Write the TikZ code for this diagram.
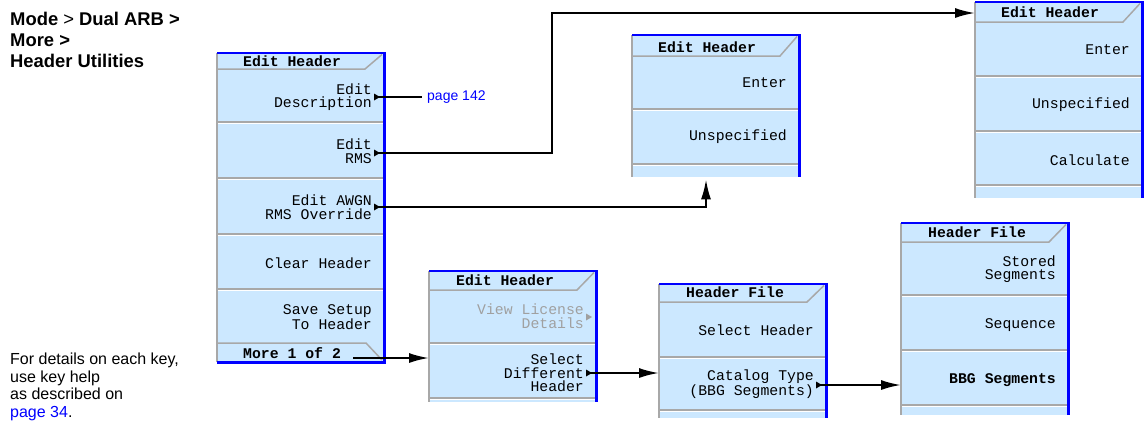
\documentclass[tikz,border=0pt]{standalone}
\usepackage{fontspec}
\setmainfont{Liberation Sans}
\newfontfamily\keyfont{Liberation Mono}
\usepackage{tikz}
\usetikzlibrary{arrows.meta,positioning,calc}
\definecolor{keyblue}{RGB}{204,232,255}
\definecolor{edgeblue}{RGB}{0,0,255}
\definecolor{divgray}{RGB}{168,168,168}
\definecolor{dimtext}{RGB}{160,160,160}
\definecolor{linkblue}{RGB}{0,0,255}

\begin{document}
\begin{tikzpicture}[x=1pt, y=-1pt,
  menuframe/.style={fill=keyblue, anchor=north west, minimum width=167pt, inner sep=0pt},
  softkey/.style={anchor=east, align=right, inner sep=0pt, font=\keyfont\fontsize{14.8}{13.5}\selectfont},
  menutitle/.style={anchor=west, inner sep=0pt, font=\keyfont\bfseries\fontsize{14.8}{14}\selectfont},
  divider/.style={draw=divgray, line width=1.5pt},
  hilite/.style={draw=white, line width=1pt},
  blueedge/.style={draw=edgeblue, line width=2.5pt},
  grayedge/.style={draw=divgray, line width=1.5pt},
  arr/.style={-{Latex[length=20pt,width=10pt]}, line width=2pt},
  wire/.style={line width=2pt},
  note/.style={anchor=north west, align=left, inner sep=0pt, font=\fontsize{16}{17.5}\selectfont}
]
\useasboundingbox (0,0) rectangle (1144,424);

% menu frames
\node[menuframe, minimum height=309pt] (hdrmenu)     at (217,53)  {};
\node[menuframe, minimum height=142pt] (entermenu)   at (632,35)  {};
\node[menuframe, minimum height=196pt] (calcmenu)    at (975,2)   {};
\node[menuframe, minimum height=131pt] (selmenu)     at (429,271) {};
\node[menuframe, minimum height=134pt] (hdrfilemenu) at (659,284) {};
\node[menuframe, minimum height=192pt] (segmenu)     at (901,223) {};

% title tabs
\draw[divider] (217,69)  -- (365,69)  -- (382,54.5);
\draw[divider] (632,56)  -- (780,56)  -- (797,36.5);
\draw[divider] (975,22)  -- (1123,22) -- (1140,3.5);
\draw[divider] (429,290) -- (577,290) -- (594,272.5);
\draw[divider] (659,302) -- (807,302) -- (824,285.5);
\draw[divider] (901,242) -- (1049,242) -- (1066,224.5);
\draw[divider] (217,343) -- (366,343) -- (382,360);

% key dividers
\foreach \y in {122,178,234,289} {
  \draw[divider] (217,\y) -- (384,\y);
  \draw[hilite] (217,{\y+1.5}) -- (384,{\y+1.5});
}
\foreach \y in {109,164} {
  \draw[divider] (632,\y) -- (799,\y);
  \draw[hilite] (632,{\y+1.5}) -- (799,{\y+1.5});
}
\foreach \y in {76,131,185} {
  \draw[divider] (975,\y) -- (1142,\y);
  \draw[hilite] (975,{\y+1.5}) -- (1142,{\y+1.5});
}
\foreach \y in {343,398} {
  \draw[divider] (429,\y) -- (596,\y);
  \draw[hilite] (429,{\y+1.5}) -- (596,{\y+1.5});
}
\foreach \y in {357,410} {
  \draw[divider] (659,\y) -- (826,\y);
  \draw[hilite] (659,{\y+1.5}) -- (826,{\y+1.5});
}
\foreach \y in {295,350,405} {
  \draw[divider] (901,\y) -- (1068,\y);
  \draw[hilite] (901,{\y+1.5}) -- (1068,{\y+1.5});
}

% edges
\foreach \m in {hdrmenu,entermenu,calcmenu,selmenu,hdrfilemenu,segmenu}
  \draw[grayedge] (\m.north west) -- (\m.south west);
\draw[blueedge] (hdrmenu.north west) -- (hdrmenu.north east) -- (hdrmenu.south east) -- (hdrmenu.south west);
\foreach \m in {entermenu,calcmenu,selmenu,hdrfilemenu,segmenu}
  \draw[blueedge] (\m.north west) -- (\m.north east) -- (\m.south east);

% first menu
\node[menutitle] (hdrtitle)  at (243,61)  {Edit Header};
\node[softkey]   (editdesc)  at (372,97)  {Edit\\Description};
\node[softkey]   (editrms)   at (372,151) {Edit\\RMS};
\node[softkey]   (editawgn)  at (372,207) {Edit AWGN\\RMS Override};
\node[softkey]   (clearhdr)  at (372,263) {Clear Header};
\node[softkey]   (savesetup) at (372,317) {Save Setup\\To Header};
\node[menutitle] (moreone)   at (243,353) {More 1 of 2};

% rms menus
\node[menutitle] (entertitle) at (658,47)   {Edit Header};
\node[softkey]   (enterone)   at (787,83)   {Enter};
\node[softkey]   (unspecone)  at (787,137)  {Unspecified};
\node[menutitle] (calctitle)  at (1001,12)  {Edit Header};
\node[softkey]   (entertwo)   at (1130,50)  {Enter};
\node[softkey]   (unspectwo)  at (1130,105) {Unspecified};
\node[softkey]   (calculate)  at (1130,160) {Calculate};

% header selection menus
\node[menutitle] (seltitle)    at (456,280) {Edit Header};
\node[softkey, text=dimtext] (viewlic) at (584,316) {View License\\Details};
\node[softkey]   (seldiff)     at (584,373) {Select\\Different\\Header};
\node[menutitle] (hdrfiletitle) at (686,292) {Header File};
\node[softkey]   (selhdr)      at (814,330) {Select Header};
\node[softkey]   (cattype)     at (814,384) {Catalog Type\\(BBG Segments)};
\node[menutitle] (segtitle)    at (928,232) {Header File};
\node[softkey]   (storedseg)   at (1056,269) {Stored\\Segments};
\node[softkey]   (sequence)    at (1056,325) {Sequence};
\node[softkey, font=\keyfont\bfseries\fontsize{14.8}{13.5}\selectfont] (bbgseg) at (1056,380) {BBG Segments};

% key arrows
\coordinate (descout) at (378,97);
\coordinate (rmsout)  at (378,153);
\coordinate (awgnout) at (378,207);
\coordinate (diffout) at (590,373);
\coordinate (catout)  at (820,385);
\coordinate (viewout) at (590,317);
\coordinate (moreout) at (353,358);
\foreach \g in {descout,rmsout,awgnout,diffout,catout}
  \fill (\g) ++(-4,-3.5) -- ++(6,3.5) -- ++(-6,3.5) -- cycle;
\fill[dimtext] (viewout) ++(-4,-3.5) -- ++(6,3.5) -- ++(-6,3.5) -- cycle;

% notes
\node[note, font=\bfseries\fontsize{18.4}{21}\selectfont] (modepath) at (10,12)
  {Mode {\mdseries >} Dual ARB >\\More >\\Header Utilities};
\node[note] (keyhelp) at (10,353)
  {For details on each key,\\use key help\\as described on\\{\color{linkblue}page 34}.};
\node[anchor=west, inner sep=0pt, text=linkblue, font=\fontsize{14}{16}\selectfont] (pageref) at (427,97) {page 142};

% connectors
\draw[wire] (descout) -- ([xshift=-5pt]descout -| pageref.west);
\draw[arr] (rmsout) -- ++(174,0) |- ([yshift=-11pt]calcmenu.north west);
\draw[arr] (awgnout) -| ([xshift=74pt, yshift=-2pt]entermenu.south west);
\draw[arr] (moreout) -- (moreout -| selmenu.west);
\draw[arr] (diffout) -- (diffout -| hdrfilemenu.west);
\draw[arr] (catout) -- (catout -| segmenu.west);

\end{tikzpicture}
\end{document}
